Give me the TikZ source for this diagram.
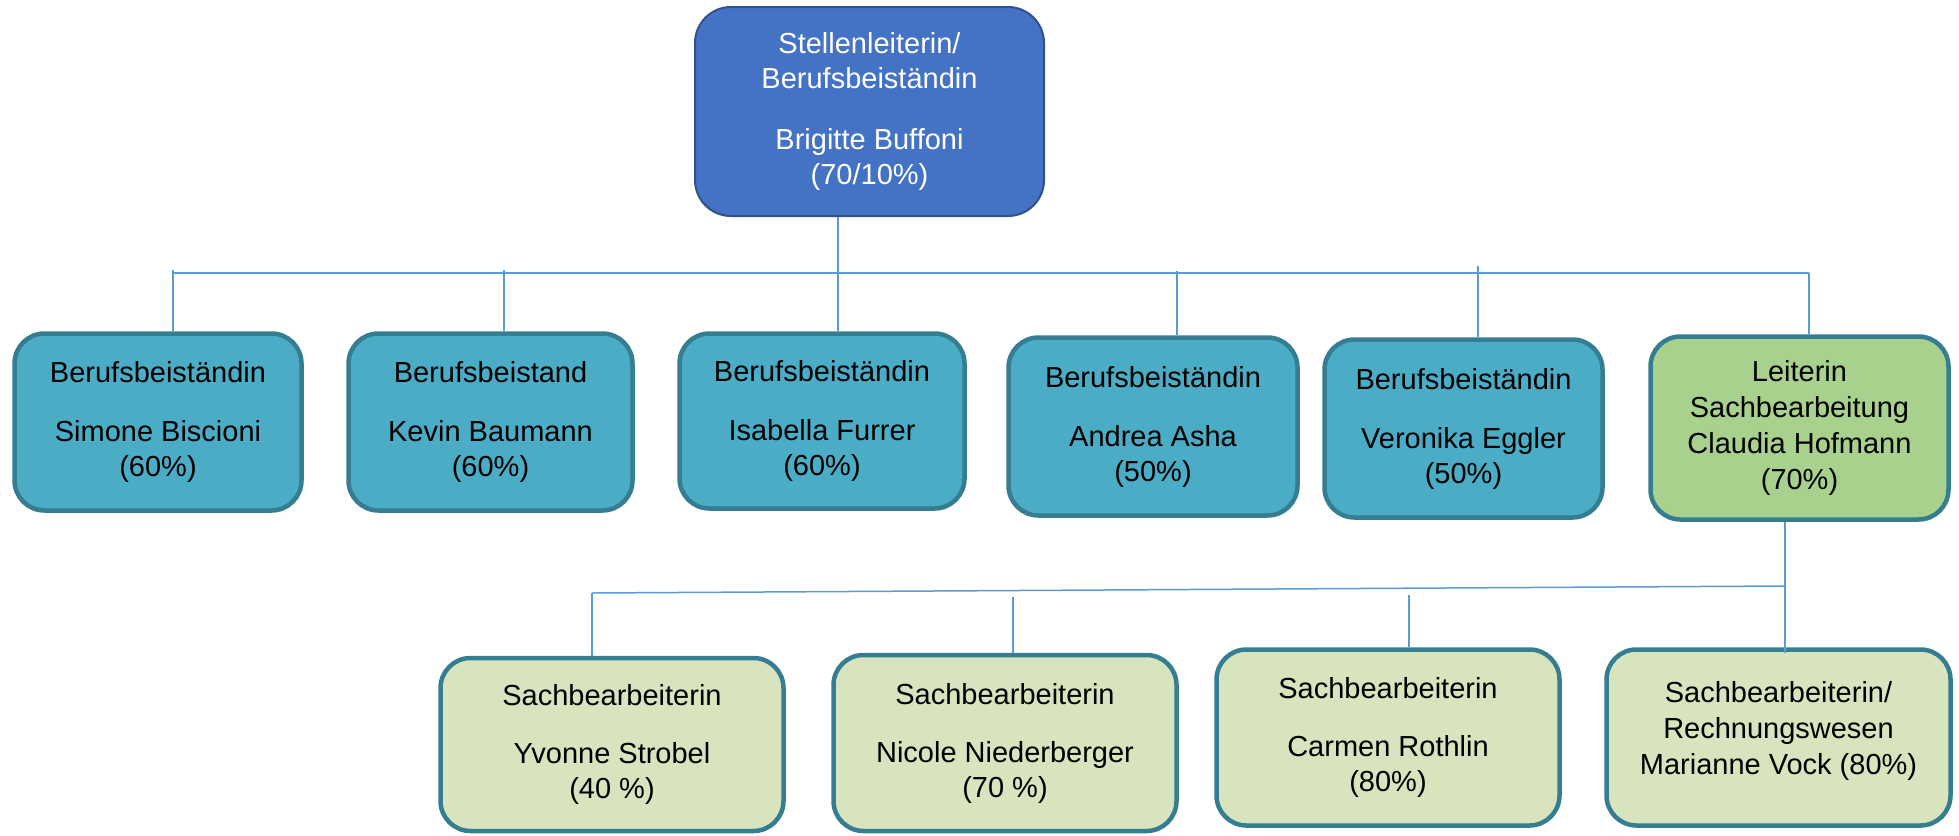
\documentclass[tikz,border=0pt]{standalone}
\usepackage{fontspec}
\setmainfont{Liberation Sans}
\definecolor{topfill}{HTML}{4472C4}
\definecolor{topdraw}{HTML}{2F528F}
\definecolor{tealfill}{HTML}{4BACC6}
\definecolor{tealdraw}{HTML}{357D91}
\definecolor{greenfill}{HTML}{A9D18E}
\definecolor{palefill}{HTML}{D7E4BD}
\definecolor{linecol}{HTML}{5B9BD5}
\begin{document}
\begin{tikzpicture}[x=1pt,y=-1pt,
  box/.style={rectangle, rounded corners=30pt, line width=4.5pt, draw=tealdraw,
    align=center, inner sep=0pt, text=black,
    font=\fontsize{29}{35}\selectfont},
  bluebox/.style={box, fill=tealfill},
  leadbox/.style={box, fill=greenfill},
  staffbox/.style={box, fill=palefill},
  headbox/.style={rectangle, rounded corners=36pt, line width=2pt, draw=topdraw,
    fill=topfill, text=white, align=center, inner sep=0pt,
    font=\fontsize{29}{35}\selectfont},
  conn/.style={draw=linecol, line width=1.5pt}]
\useasboundingbox (0,0) rectangle (1959,835);

% top
\node[headbox, minimum width=349pt, minimum height=209pt] (top) at (869.5,111.5)
  {Stellenleiterin/\\Berufsbeiständin\\[26pt]Brigitte Buffoni\\(70/10\%)};

% row 2
\node[bluebox, minimum width=287pt, minimum height=177pt] (b1) at (158,422)
  {Berufsbeiständin\\[24pt]Simone Biscioni\\(60\%)};
\node[bluebox, minimum width=284pt, minimum height=177pt] (b2) at (490.5,422)
  {Berufsbeistand\\[24pt]Kevin Baumann\\(60\%)};
\node[bluebox, minimum width=285pt, minimum height=175pt] (b3) at (822,421)
  {Berufsbeiständin\\[24pt]Isabella Furrer\\(60\%)};
\node[bluebox, minimum width=289pt, minimum height=178pt] (b4) at (1153,426.5)
  {Berufsbeiständin\\[24pt]Andrea Asha\\(50\%)};
\node[bluebox, minimum width=278pt, minimum height=178pt] (b5) at (1463.5,428.5)
  {Berufsbeiständin\\[24pt]Veronika Eggler\\(50\%)};
\node[leadbox, minimum width=298pt, minimum height=183pt,
  font=\fontsize{29}{36}\selectfont] (b6) at (1799.5,428)
  {Leiterin\\Sachbearbeitung\\Claudia Hofmann\\(70\%)};

% row 3
\node[staffbox, minimum width=343pt, minimum height=173pt] (c1) at (612,744.5)
  {Sachbearbeiterin\\[23pt]Yvonne Strobel\\(40 \%)};
\node[staffbox, minimum width=343pt, minimum height=176pt] (c2) at (1005,743)
  {Sachbearbeiterin\\[23pt]Nicole Niederberger\\(70 \%)};
\node[staffbox, minimum width=343pt, minimum height=176pt] (c3) at (1388,737.5)
  {Sachbearbeiterin\\[23pt]Carmen Rothlin\\(80\%)};
\node[staffbox, minimum width=344pt, minimum height=176pt,
  font=\fontsize{29}{36}\selectfont, text depth=20pt] (c4) at (1778.5,737.5)
  {Sachbearbeiterin/\\Rechnungswesen\\Marianne Vock (80\%)};

% upper connectors
\coordinate (busL) at (172,273);
\coordinate (busR) at (1809,273);
\coordinate (s0) at (838,0);
\coordinate (d1) at (173,270);
\coordinate (d2) at (504,270);
\coordinate (d4) at (1177,271);
\coordinate (d5) at (1478,266);
\draw[conn] (busL) -- (busR);
\draw[conn] (top.south -| s0) -- (b3.north -| s0);
\draw[conn] (d1) -- (d1 |- b1.north);
\draw[conn] (d2) -- (d2 |- b2.north);
\draw[conn] (d4) -- (d4 |- b4.north);
\draw[conn] (d5) -- (d5 |- b5.north);
\draw[conn] (busR) -- (busR |- b6.north);

% lower connectors
\coordinate (lbL) at (592,593);
\coordinate (lbR) at (1785,586);
\coordinate (e2) at (1013,597);
\coordinate (e3) at (1409,595);
\coordinate (e4) at (1785,653);
\draw[conn] (lbL) -- (lbR);
\draw[conn] (b6.south -| lbR) -- (e4);
\draw[conn] (lbL) -- (lbL |- c1.north);
\draw[conn] (e2) -- (e2 |- c2.north);
\draw[conn] (e3) -- (e3 |- c3.north);
\end{tikzpicture}
\end{document}
